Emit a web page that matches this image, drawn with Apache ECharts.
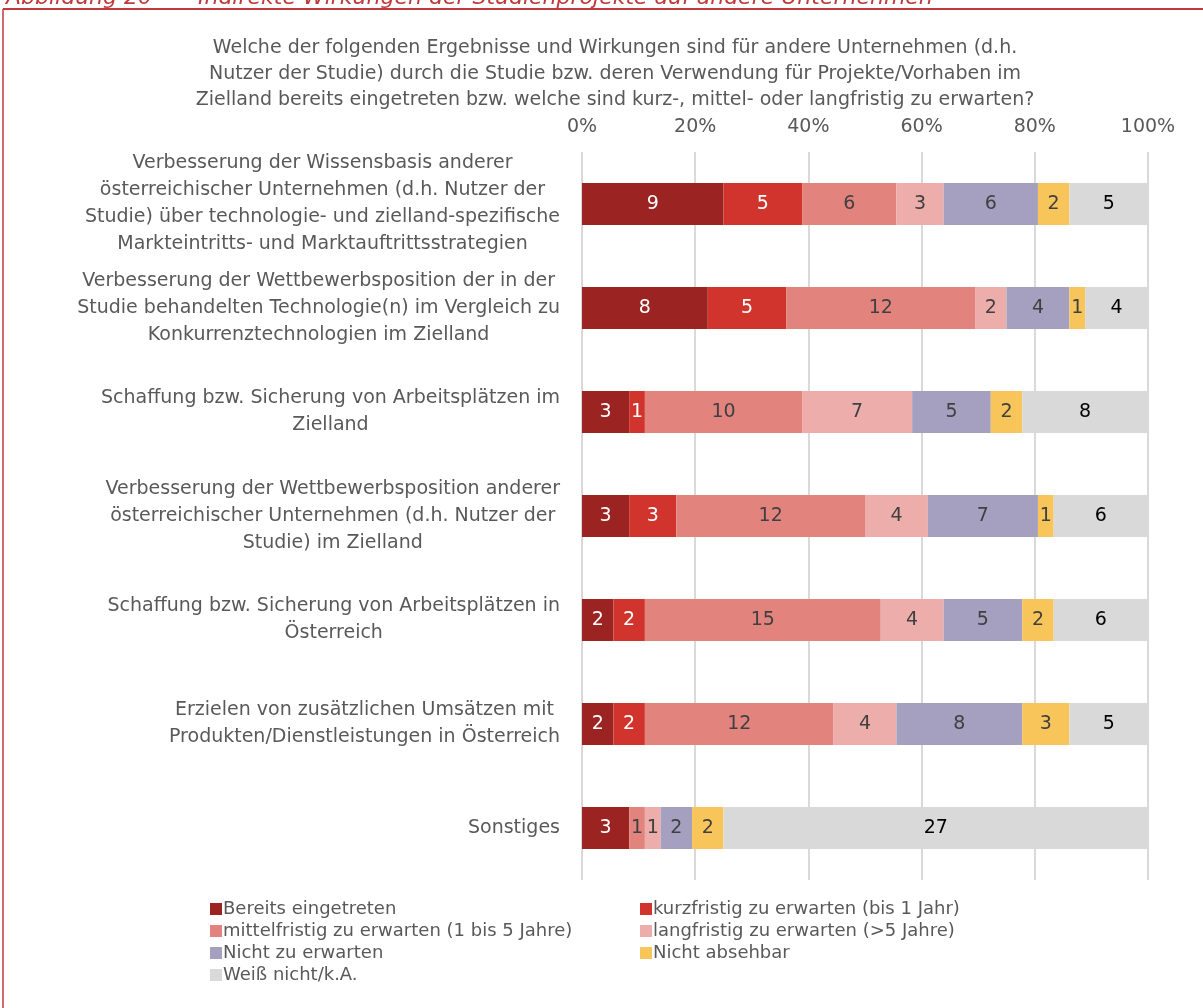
<!DOCTYPE html>
<html>
<head>
<meta charset="utf-8">
<script src="https://cdn.jsdelivr.net/npm/echarts@6/dist/echarts.min.js"></script>
<style>
  html, body { margin: 0; padding: 0; background: #fff; }
  #chart { width: 1203px; height: 1008px; }
</style>
</head>
<body>
<div id="chart"></div>
<script>
var categories = [
    'Verbesserung der Wissensbasis anderer\nösterreichischer Unternehmen (d.h. Nutzer der\nStudie) über technologie- und zielland-spezifische\nMarkteintritts- und Marktauftrittsstrategien',
    'Verbesserung der Wettbewerbsposition der in der\nStudie behandelten Technologie(n) im Vergleich zu\nKonkurrenztechnologien im Zielland',
    'Schaffung bzw. Sicherung von Arbeitsplätzen im\nZielland',
    'Verbesserung der Wettbewerbsposition anderer\nösterreichischer Unternehmen (d.h. Nutzer der\nStudie) im Zielland',
    'Schaffung bzw. Sicherung von Arbeitsplätzen in\nÖsterreich',
    'Erzielen von zusätzlichen Umsätzen mit\nProdukten/Dienstleistungen in Österreich',
    'Sonstiges'
];

var seriesNames = [
    'Bereits eingetreten',
    'kurzfristig zu erwarten (bis 1 Jahr)',
    'mittelfristig zu erwarten (1 bis 5 Jahre)',
    'langfristig zu erwarten (>5 Jahre)',
    'Nicht zu erwarten',
    'Nicht absehbar',
    'Weiß nicht/k.A.'
];

// counts per category (top to bottom)
var bereits      = [9, 8, 3, 3, 2, 2, 3];
var kurzfristig  = [5, 5, 1, 3, 2, 2, 0];
var mittelfristig= [6, 12, 10, 12, 15, 12, 1];
var langfristig  = [3, 2, 7, 4, 4, 4, 1];
var nichtZu      = [6, 4, 5, 7, 5, 8, 2];
var nichtAbsehbar= [2, 1, 2, 1, 2, 3, 2];
var weissNicht   = [5, 4, 8, 6, 6, 5, 27];

var xTicks = [0, 20, 40, 60, 80, 100];

var colors = ['#9B2423', '#D0342C', '#E3837D', '#EDADAB', '#A59FC0', '#F8C55A', '#D9D9D9'];
var labelColors = ['#ffffff', '#ffffff', '#404040', '#404040', '#404040', '#404040', '#000000'];

var allCounts = [bereits, kurzfristig, mittelfristig, langfristig, nichtZu, nichtAbsehbar, weissNicht];

var totals = categories.map(function (c, i) {
    var s = 0;
    allCounts.forEach(function (arr) { s += arr[i]; });
    return s;
});

var FONT = 'DejaVu Sans';
var FS = 19;

var series = allCounts.map(function (arr, k) {
    return {
        name: seriesNames[k],
        type: 'bar',
        stack: 'total',
        barWidth: 42,
        itemStyle: { color: colors[k] },
        label: {
            show: true,
            fontFamily: FONT,
            fontSize: FS,
            color: labelColors[k],
            formatter: function (p) { return p.data.count > 0 ? String(p.data.count) : ''; }
        },
        data: arr.map(function (v, i) {
            return { value: v / totals[i] * 100, count: v };
        })
    };
});

var chart = echarts.init(document.getElementById('chart'));

var legendText = { fontFamily: FONT, fontSize: 18, color: '#595959', lineHeight: 18, padding: [0, 0, 0, -4] };

var option = {
    animation: false,
    textStyle: { fontFamily: FONT },
    title: {
        text: 'Welche der folgenden Ergebnisse und Wirkungen sind für andere Unternehmen (d.h.\nNutzer der Studie) durch die Studie bzw. deren Verwendung für Projekte/Vorhaben im\nZielland bereits eingetreten bzw. welche sind kurz-, mittel- oder langfristig zu erwarten?',
        left: 610,
        top: 30,
        textAlign: 'center',
        textStyle: { fontFamily: FONT, fontSize: FS, fontWeight: 'normal', color: '#595959', lineHeight: 26, align: 'center' }
    },
    legend: [{
        orient: 'vertical',
        left: 205,
        top: 895,
        itemWidth: 12,
        itemHeight: 12,
        itemGap: 4,
        icon: 'rect',
        textStyle: legendText,
        data: [seriesNames[0], seriesNames[2], seriesNames[4], seriesNames[6]]
    }, {
        orient: 'vertical',
        left: 635,
        top: 895,
        itemWidth: 12,
        itemHeight: 12,
        itemGap: 4,
        icon: 'rect',
        textStyle: legendText,
        data: [seriesNames[1], seriesNames[3], seriesNames[5]]
    }],
    grid: { left: 582, right: 55, top: 152, bottom: 128 },
    xAxis: {
        type: 'value',
        position: 'top',
        min: 0,
        max: 100,
        interval: 20,
        axisLine: { show: false },
        axisTick: { show: false },
        axisLabel: {
            fontFamily: FONT,
            fontSize: FS,
            color: '#595959',
            margin: 15,
            formatter: function (v) { return xTicks.indexOf(v) >= 0 ? v + '%' : ''; }
        },
        splitLine: { lineStyle: { color: '#D9D9D9', width: 2 } }
    },
    yAxis: {
        type: 'category',
        inverse: true,
        data: categories,
        axisLine: { show: false },
        axisTick: { show: false },
        axisLabel: {
            margin: 22,
            fontFamily: FONT,
            fontSize: FS,
            color: '#595959',
            lineHeight: 27,
            formatter: function (v) {
                return v.split('\n').map(function (l) { return '{c|' + l + '}'; }).join('\n');
            },
            rich: {
                c: { align: 'center', fontFamily: FONT, fontSize: FS, color: '#595959', lineHeight: 27 }
            }
        }
    },
    graphic: [
        {
            type: 'text',
            left: 6,
            top: -13,
            style: {
                text: 'Abbildung 20 \u2013    Indirekte Wirkungen der Studienprojekte auf andere Unternehmen',
                font: 'italic 22px ' + FONT,
                fill: '#C0393B'
            }
        },
        {
            type: 'rect',
            shape: { x: 0, y: 8, width: 1203, height: 1000 },
            style: { fill: '#fff' },
            z: -1
        },
        {
            type: 'line',
            shape: { x1: 3, y1: 9, x2: 1203, y2: 9 },
            style: { stroke: '#C0393B', lineWidth: 2 }
        },
        {
            type: 'line',
            shape: { x1: 3, y1: 9, x2: 3, y2: 1008 },
            style: { stroke: '#C0393B', lineWidth: 1.5 }
        }
    ],
    series: series
};

chart.setOption(option);

window.onresize = function () {
    chart.resize();
};
</script>
</body>
</html>
